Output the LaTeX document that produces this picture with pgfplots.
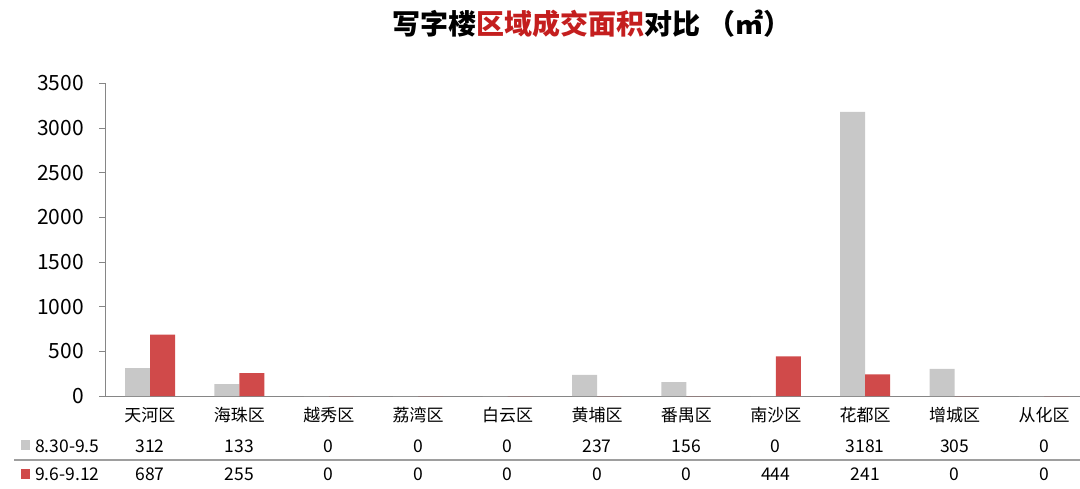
\documentclass[border=0pt]{standalone}
\usepackage{pgfplots}
\pgfplotsset{compat=1.18}
\usepackage{fontspec}
\setmainfont{Noto Sans CJK SC}
\definecolor{bargray}{RGB}{200,200,200}
\definecolor{barred}{RGB}{208,74,74}
\definecolor{titlered}{RGB}{196,30,30}
\definecolor{axgray}{RGB}{134,134,134}
\begin{document}
\begin{tikzpicture}[x=1pt,y=1pt]
\useasboundingbox (0,0) rectangle (1080,-488);
% title
\node[font=\fontsize{28}{32}\selectfont\bfseries, inner sep=0pt] at (592,-23.5)
  {写字楼\textcolor{titlered}{区域成交面积}对比 （㎡）};
\begin{axis}[
  at={(105.3pt,-396pt)}, anchor=south west,
  scale only axis, width=983.4pt, height=312.7pt,
  xmin=-0.5, xmax=10.5, ymin=0, ymax=3500,
  axis lines=left, axis line style={-, draw=axgray, line width=0.9pt},
  ybar=0pt, bar width=25pt,
  xtick=data,
  xticklabels={天河区,海珠区,越秀区,荔湾区,白云区,黄埔区,番禺区,南沙区,花都区,增城区,从化区},
  xtick style={draw=none},
  xticklabel style={font=\fontsize{17}{20}\selectfont, anchor=base, yshift=-19pt},
  ytick={0,500,...,3500},
  ytick style={draw=axgray, line width=0.9pt},
  tick align=outside, major tick length=6pt,
  yticklabel style={font=\fontsize{21}{24}\selectfont, xshift=-12pt},
  /pgf/number format/assume math mode=true,
  scaled y ticks=false,
  yticklabel={\pgfmathprintnumber[fixed,1000 sep={}]{\tick}},
  clip=false,
]
\addplot[fill=bargray, draw=none] coordinates {
 (0,312) (1,133) (2,0) (3,0) (4,0) (5,237) (6,156) (7,0) (8,3181) (9,305) (10,0)};
\addplot[fill=barred, draw=none] coordinates {
 (0,687) (1,255) (2,0) (3,0) (4,0) (5,0) (6,0) (7,444) (8,241) (9,0) (10,0)};
\end{axis}
% data table
\draw[draw=axgray!80, line width=1.3pt] (14,-460) -- (1080,-460);
\fill[bargray] (21,-440) rectangle (30,-450);
\fill[barred] (21,-469) rectangle (30,-479);
\node[anchor=base west, inner sep=0pt, font=\fontsize{17.5}{20}\selectfont] at (35,-452) {8.30-9.5};
\node[anchor=base west, inner sep=0pt, font=\fontsize{17.5}{20}\selectfont] at (35,-480) {9.6-9.12};
\foreach \v [count=\i from 0] in {312,133,0,0,0,237,156,0,3181,305,0}
  \node[anchor=base, inner sep=0pt, font=\fontsize{17.5}{20}\selectfont] at (150+89.4*\i,-452) {\v};
\foreach \v [count=\i from 0] in {687,255,0,0,0,0,0,444,241,0,0}
  \node[anchor=base, inner sep=0pt, font=\fontsize{17.5}{20}\selectfont] at (150+89.4*\i,-480) {\v};
\end{tikzpicture}
\end{document}
